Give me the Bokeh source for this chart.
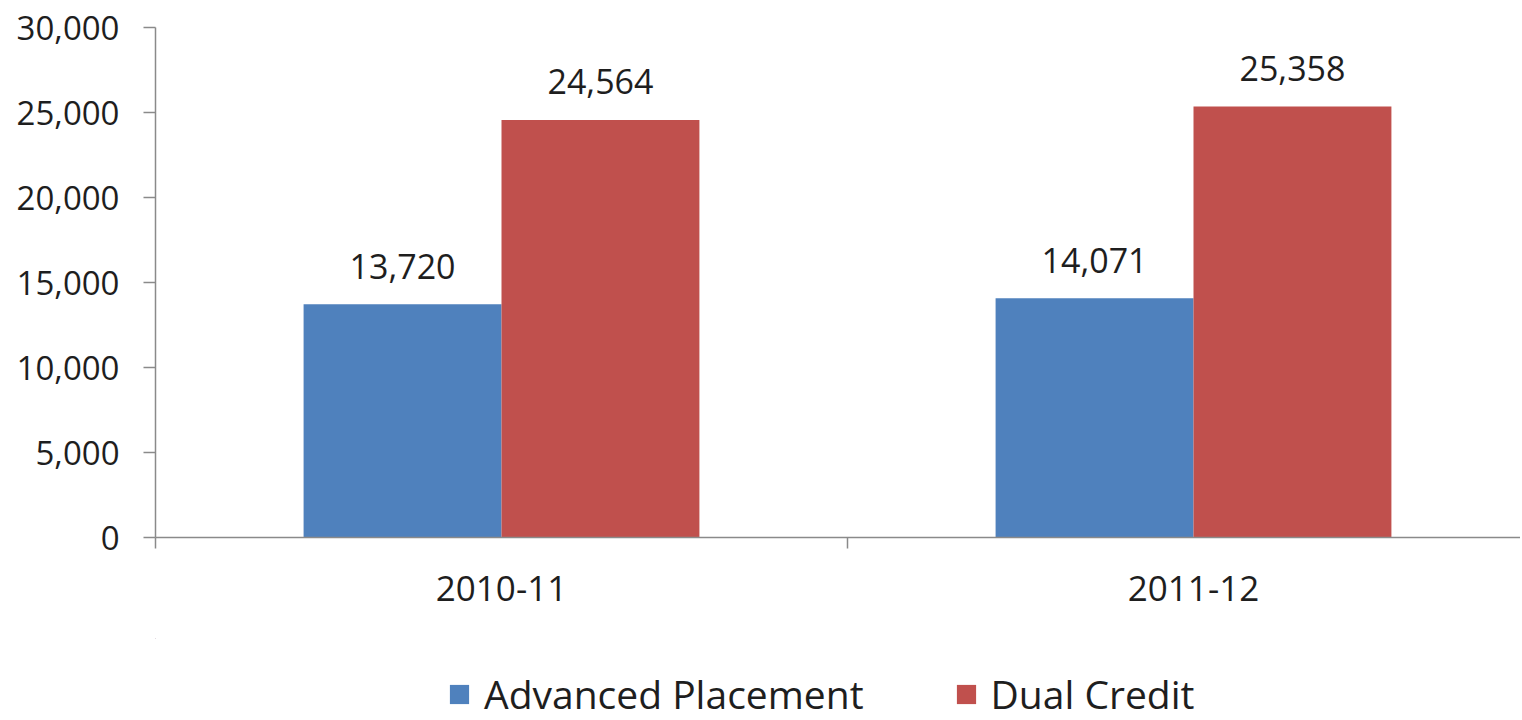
from bokeh.plotting import figure
from bokeh.layouts import column
from bokeh.models import (Range1d, FixedTicker, NumeralTickFormatter, ColumnDataSource,
                          Legend, LegendItem)
from bokeh.transform import dodge
from bokeh.core.properties import value
from bokeh.embed import file_html
from bokeh.resources import INLINE

categories = ["2010-11", "2011-12"]
advanced_placement = [13720, 14071]
dual_credit = [24564, 25358]
series_names = ["Advanced Placement", "Dual Credit"]
colors = ["#4F81BD", "#C0504D"]
y_ticks = [0, 5000, 10000, 15000, 20000, 25000, 30000]

FONT = "Open Sans"
TXT = "#1e1e1e"
AX = "#8a8a8a"

xpos = [i + 0.5 for i in range(len(categories))]
src = ColumnDataSource(dict(
    x=xpos, cat=categories,
    ap=advanced_placement, dc=dual_credit,
    ap_lbl=[f"{v:,}" for v in advanced_placement],
    dc_lbl=[f"{v:,}" for v in dual_credit],
))

W, H = 1520, 638
p = figure(width=W, height=H, output_backend="svg", toolbar_location=None,
           x_range=Range1d(0, 1365 / 692), y_range=Range1d(0, 30000),
           min_border_left=155, min_border_right=0, min_border_top=27,
           min_border_bottom=H - 537)
p.outline_line_color = None
p.grid.visible = False
p.background_fill_color = "white"
p.border_fill_color = "white"

bw = 0.286
p.vbar(x=dodge("x", -bw / 2, range=p.x_range), top="ap", width=bw, source=src,
       fill_color=colors[0], line_color=None)
p.vbar(x=dodge("x", bw / 2, range=p.x_range), top="dc", width=bw, source=src,
       fill_color=colors[1], line_color=None)

for col, off in (("ap", -bw / 2), ("dc", bw / 2)):
    p.text(x=dodge("x", off, range=p.x_range), y=col, text=col + "_lbl", source=src,
           text_font=value(FONT), text_font_size="34px", text_color=TXT,
           text_align="center", text_baseline="alphabetic", y_offset=-38)

# y axis
ya = p.yaxis[0]
ya.ticker = FixedTicker(ticks=y_ticks)
ya.formatter = NumeralTickFormatter(format="0,0")
ya.major_label_text_font = FONT
ya.major_label_text_font_size = "33px"
ya.major_label_text_color = TXT
ya.axis_line_color = AX
ya.axis_line_width = 1.5
ya.major_tick_line_color = AX
ya.major_tick_line_width = 1.5
ya.major_tick_out = 12
ya.major_tick_in = 0
ya.minor_tick_line_color = None
ya.major_label_standoff = 24

# x axis: labels at category centers, separator ticks at boundaries
xa = p.xaxis[0]
xa.ticker = FixedTicker(ticks=xpos, minor_ticks=list(range(len(categories) + 1)))
xa.major_label_overrides = {x: c for x, c in zip(xpos, categories)}
xa.major_label_text_font = FONT
xa.major_label_text_font_size = "35px"
xa.major_label_text_color = TXT
xa.axis_line_color = AX
xa.axis_line_width = 1.5
xa.major_tick_line_color = None
xa.minor_tick_line_color = AX
xa.minor_tick_line_width = 1.5
xa.minor_tick_out = 11
xa.minor_tick_in = 0
xa.major_label_standoff = 27

# legend strip: swatch renderers whose bars lie far outside the visible ranges
LH = 720 - H
lp = figure(width=W, height=LH, output_backend="svg", toolbar_location=None,
            x_range=Range1d(1000, 1001), y_range=Range1d(-2, -1),
            x_axis_location=None, y_axis_location=None, min_border=0)
lp.outline_line_color = None
lp.grid.visible = False
l1 = lp.vbar(x="x", top="ap", width=bw, source=src,
             fill_color=colors[0], line_color=None)
l2 = lp.vbar(x="x", top="dc", width=bw, source=src,
             fill_color=colors[1], line_color=None)
legend = Legend(items=[LegendItem(label=series_names[0], renderers=[l1]),
                       LegendItem(label=series_names[1], renderers=[l2])],
                orientation="horizontal", location=(292, 0),
                label_text_font=FONT, label_text_font_size="39px",
                label_text_color=TXT, glyph_width=24, glyph_height=24,
                label_standoff=13, spacing=90, padding=0, margin=0,
                border_line_color=None, background_fill_alpha=0)
lp.add_layout(legend, "center")

open("out.html", "w").write(file_html(column(p, lp, spacing=0), INLINE))
